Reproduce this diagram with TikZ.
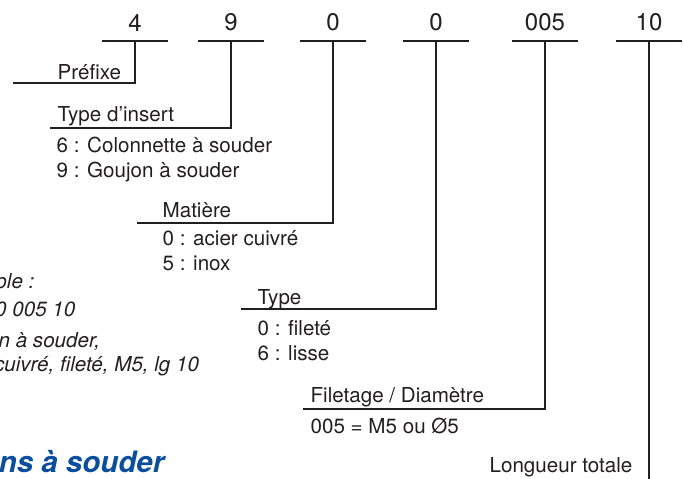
\documentclass[tikz,border=0pt]{standalone}
\usepackage{fontspec}
\setmainfont{TeX Gyre Heros}
\usepackage{tikz}
\definecolor{txtgray}{RGB}{35,31,32}
\definecolor{titleblue}{RGB}{12,78,158}

\begin{document}
\begin{tikzpicture}[x=1pt, y=-1pt, line width=1.3pt, draw=txtgray,
	every node/.style={font=\fontsize{20.6}{25}\selectfont, inner sep=0pt, anchor=base west, text=txtgray},
	code/.style={font=\fontsize{24}{28}\selectfont, minimum width=64pt, inner ysep=9pt, anchor=south},
	note/.style={font=\fontsize{20.6}{25}\selectfont\itshape}]
	\useasboundingbox (0,0) rectangle (683,479);
	\node[code] (pre) at (135,41) {4};
	\node[code] (ins) at (231,41) {9};
	\node[code] (mat) at (333,41) {0};
	\node[code] (typ) at (436,41) {0};
	\node[code] (dia) at (545,41) {005};
	\node[code] (lng) at (649,41) {10};
	\foreach \c in {pre,ins,mat,typ,dia,lng}
		\draw (\c.south west) -- (\c.south east);

	\node (pre-t) at (57,79) {Préfixe};
	\coordinate (pre-l) at (13,83);
	\draw (pre.south) |- (pre-l);

	\node (ins-t) at (57,121) {Type d’insert};
	\node (ins-a) at (56,152) {6 : Colonnette à souder};
	\node (ins-b) at (56,177) {9 : Goujon à souder};
	\coordinate (ins-l) at (50,128);
	\draw (ins.south) |- (ins-l);

	\node (mat-t) at (162,217) {Matière};
	\node (mat-a) at (162,245) {0 : acier cuivré};
	\node (mat-b) at (162,270) {5 : inox};
	\coordinate (mat-l) at (137,223);
	\draw (mat.south) |- (mat-l);

	\node (typ-t) at (257,304) {Type};
	\node (typ-a) at (257,335) {0 : fileté};
	\node (typ-b) at (257,360) {6 : lisse};
	\coordinate (typ-l) at (241,309);
	\draw (typ.south) |- (typ-l);

	\node (dia-t) at (310,402) {Filetage / Diamètre};
	\node (dia-a) at (310,433) {005 = M5 ou Ø5};
	\coordinate (dia-l) at (303,409);
	\draw (dia.south) |- (dia-l);

	\node[anchor=base east] (lng-t) at (633,472) {Longueur totale};
	\coordinate (lng-l) at (649,479);
	\draw (lng.south) -- (lng-l);

	\node[note] (ex-1) at (-57,288) {Exemple :};
	\node[note] (ex-2) at (-57,316) {4 9 0 0 005 10};
	\node[note] (ex-3) at (-57,347) {Goujon à souder,};
	\node[note] (ex-4) at (-57,371) {acier cuivré, fileté, M5, lg 10};

	\node[font=\fontsize{29.5}{32}\selectfont\bfseries\itshape, text=titleblue, anchor=base east] (title) at (165,472) {Goujons à souder};
\end{tikzpicture}
\end{document}
